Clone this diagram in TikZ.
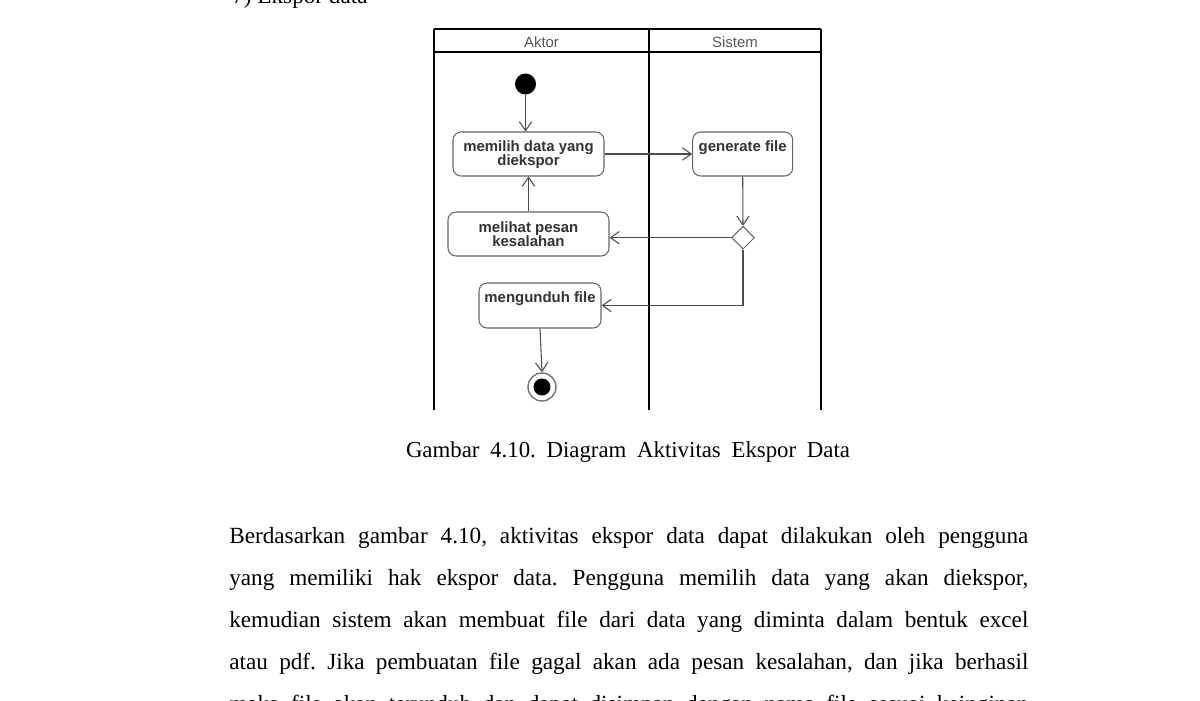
\documentclass[tikz,border=0pt]{standalone}
\usepackage{fontspec}
\setmainfont{Liberation Serif}
\newfontfamily\bodyfont{Liberation Serif}
\newfontfamily\umlfont{Liberation Sans}
\usetikzlibrary{arrows.meta,shapes.geometric}
\newdimen\pxu \pxu=0.02cm
\frenchspacing
\begin{document}
\begin{tikzpicture}[x=0.02cm,y=-0.02cm,
  lane/.style={line width=1.1pt, draw=black},
  act/.style={draw=black!60, line width=0.6pt, rounded corners=1.6mm, fill=white, inner sep=0pt},
  acttext/.style={font=\umlfont\bfseries\fontsize{8.5}{8}\selectfont, text=black!80, align=center, inner sep=0pt},
  lanetitle/.style={font=\umlfont\fontsize{8.5}{9}\selectfont, text=black!65, inner sep=0pt},
  flow/.style={draw=black!70, line width=0.6pt, -{Straight Barb[length=5pt,width=7pt]}},
  bodyline/.style={font=\bodyfont\frenchspacing\fontsize{13.2}{14}\selectfont, anchor=base west, inner sep=0pt},
]
\useasboundingbox[fill=white] (0,0) rectangle (1200,700);

% heading (cut off at top)
\node[bodyline] (head) at (232,3.5) {7) Ekspor data};

% swimlanes
\coordinate (tl) at (434,29);
\coordinate (tr) at (821,29);
\coordinate (hl) at (434,52);
\coordinate (hr) at (821,52);
\coordinate (tm) at (649,29);
\coordinate (bl) at (434,410);
\coordinate (bm) at (649,410);
\coordinate (br) at (821,410);
\draw[lane] (tl) -- (tr);
\draw[lane] (hl) -- (hr);
\draw[lane] (tl) -- (bl);
\draw[lane] (tm) -- (bm);
\draw[lane] (tr) -- (br);
\node[lanetitle] (aktor) at (541.5,42) {Aktor};
\node[lanetitle] (sistem) at (735,42) {Sistem};

% nodes
\node[circle, fill=black, minimum size=21\pxu, inner sep=0pt] (start) at (525.5,84) {};
\node[act, minimum width=151\pxu, minimum height=44\pxu] (b1) at (528.5,154) {};
\node[acttext] (t1) at (528.5,154.5) {memilih data yang\\diekspor};
\node[act, minimum width=100\pxu, minimum height=44\pxu] (b2) at (742.7,154) {};
\node[acttext] (t2) at (742.7,147.5) {generate file};
\node[diamond, draw=black!60, line width=0.6pt, fill=white, minimum width=23\pxu, minimum height=23\pxu, inner sep=0pt] (dia) at (743,237.7) {};
\node[act, minimum width=161\pxu, minimum height=44\pxu] (b3) at (528.5,234) {};
\node[acttext] (t3) at (528.5,234.5) {melihat pesan\\kesalahan};
\node[act, minimum width=122\pxu, minimum height=45\pxu] (b4) at (540,305.5) {};
\node[acttext] (t4) at (540,299) {mengunduh file};
\node[circle, draw=black!55, line width=0.8pt, fill=white, minimum size=28\pxu, inner sep=0pt] (stop) at (542,387) {};
\node[circle, fill=black, minimum size=17\pxu, inner sep=0pt] (stopin) at (542,387) {};

% flows
\draw[flow] (start.south) -- (start.south |- b1.north);
\draw[flow] (b1.east) -- (b2.west);
\draw[flow] (b2.south) -- (dia.north);
\draw[flow] (dia.west) -- (dia.west -| b3.east);
\draw[flow] (b3.north) -- (b1.south);
\draw[flow] (dia.south) |- (b4.east);
\draw[flow] (b4.south) -- (stop.north);

% caption
\node[font=\bodyfont\frenchspacing\fontsize{13}{14}\selectfont, anchor=base, inner sep=0pt] (cap) at (628,457) {\makebox[444\pxu][s]{Gambar 4.10. Diagram Aktivitas Ekspor Data}};

% paragraph
\node[bodyline] (l1) at (229,543) {\makebox[799\pxu][s]{Berdasarkan gambar 4.10, aktivitas ekspor data dapat dilakukan oleh pengguna}};
\node[bodyline] (l2) at (229,585) {\makebox[799\pxu][s]{yang memiliki hak ekspor data. Pengguna memilih data yang akan diekspor,}};
\node[bodyline] (l3) at (229,627) {\makebox[799\pxu][s]{kemudian sistem akan membuat file dari data yang diminta dalam bentuk excel}};
\node[bodyline] (l4) at (229,669) {\makebox[799\pxu][s]{atau pdf. Jika pembuatan file gagal akan ada pesan kesalahan, dan jika berhasil}};
\node[bodyline] (l5) at (229,711) {\makebox[799\pxu][s]{maka file akan terunduh dan dapat disimpan dengan nama file sesuai keinginan}};
\end{tikzpicture}
\end{document}
